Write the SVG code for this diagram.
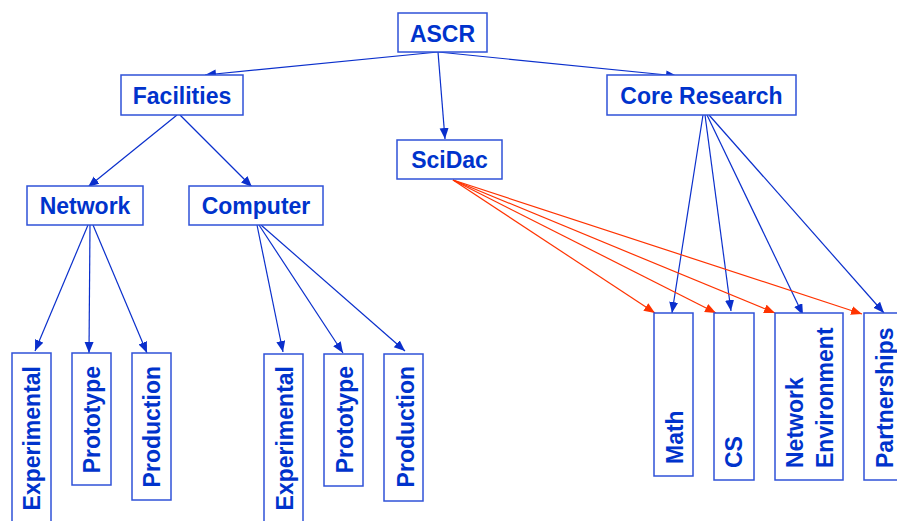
<svg xmlns="http://www.w3.org/2000/svg" width="897" height="521" viewBox="0 0 897 521">
<style>
.box{fill:#fff;stroke:#2f52d8;stroke-width:1.5}
.t{font-family:"Liberation Sans",Arial,sans-serif;font-weight:bold;font-size:23px;fill:#0033cc}
.c{text-anchor:middle}
.b{stroke:#0a2fcc;stroke-width:1.2;fill:none;marker-end:url(#ab)}
.r{stroke:#ff3300;stroke-width:1.2;fill:none;marker-end:url(#ar)}
</style>
<defs>
<marker id="ab" markerUnits="userSpaceOnUse" markerWidth="12" markerHeight="10" refX="11" refY="4.5" orient="auto"><path d="M0,0 L11,4.5 L0,9 z" fill="#0a2fcc"/></marker>
<marker id="ar" markerUnits="userSpaceOnUse" markerWidth="12" markerHeight="10" refX="11" refY="4.5" orient="auto"><path d="M0,0 L11,4.5 L0,9 z" fill="#ff3300"/></marker>
</defs>
<rect width="897" height="521" fill="#fff"/>
<g id="connectors">
<line class="b" x1="438" y1="52" x2="205" y2="75"/>
<line class="b" x1="438" y1="52" x2="677" y2="76"/>
<line class="b" x1="438" y1="52" x2="445" y2="139"/>
<line class="b" x1="177" y1="115" x2="88" y2="187"/>
<line class="b" x1="180" y1="115" x2="252" y2="187"/>
<line class="b" x1="88" y1="225" x2="35" y2="351"/>
<line class="b" x1="90" y1="225" x2="89" y2="353"/>
<line class="b" x1="93" y1="225" x2="147" y2="353"/>
<line class="b" x1="257" y1="225" x2="283" y2="352"/>
<line class="b" x1="259" y1="225" x2="343" y2="353"/>
<line class="b" x1="261" y1="225" x2="405" y2="351"/>
<line class="b" x1="703" y1="115" x2="672" y2="313"/>
<line class="b" x1="705" y1="115" x2="731" y2="311"/>
<line class="b" x1="707" y1="115" x2="803" y2="315"/>
<line class="b" x1="709" y1="115" x2="884" y2="313"/>
<line class="r" x1="453" y1="180" x2="655" y2="313"/>
<line class="r" x1="453" y1="180" x2="716" y2="313"/>
<line class="r" x1="453" y1="180" x2="775" y2="313"/>
<line class="r" x1="453" y1="180" x2="862" y2="314"/>
</g>
<g id="ascr"><rect class="box" x="398" y="13" width="89" height="39"/><text class="t c" x="442.5" y="42">ASCR</text></g>
<g id="facilities"><rect class="box" x="121" y="75" width="122" height="40"/><text class="t c" x="182" y="104">Facilities</text></g>
<g id="core-research"><rect class="box" x="607" y="75" width="189" height="40"/><text class="t c" x="701.5" y="104">Core Research</text></g>
<g id="scidac"><rect class="box" x="397" y="140" width="105" height="39"/><text class="t c" x="449.5" y="168">SciDac</text></g>
<g id="network"><rect class="box" x="27" y="186" width="116" height="39"/><text class="t c" x="85" y="214">Network</text></g>
<g id="computer"><rect class="box" x="189" y="186" width="134" height="39"/><text class="t c" x="256" y="214">Computer</text></g>
<g id="net-experimental"><rect class="box" x="12" y="353" width="39" height="180"/><text class="t" text-anchor="end" transform="translate(40,366) rotate(-90)">Experimental</text></g>
<g id="net-prototype"><rect class="box" x="72" y="353" width="39" height="132"/><text class="t" text-anchor="end" transform="translate(100,366) rotate(-90)">Prototype</text></g>
<g id="net-production"><rect class="box" x="132" y="353" width="39" height="147"/><text class="t" text-anchor="end" transform="translate(160,366) rotate(-90)">Production</text></g>
<g id="comp-experimental"><rect class="box" x="264" y="354" width="39" height="180"/><text class="t" text-anchor="end" transform="translate(293,366) rotate(-90)">Experimental</text></g>
<g id="comp-prototype"><rect class="box" x="324" y="354" width="39" height="132"/><text class="t" text-anchor="end" transform="translate(353,366) rotate(-90)">Prototype</text></g>
<g id="comp-production"><rect class="box" x="384" y="354" width="39" height="147"/><text class="t" text-anchor="end" transform="translate(414,366) rotate(-90)">Production</text></g>
<g id="math"><rect class="box" x="654" y="313" width="39" height="163"/><text class="t" transform="translate(683,464) rotate(-90)">Math</text></g>
<g id="cs"><rect class="box" x="714" y="313" width="40" height="167"/><text class="t" transform="translate(742,468) rotate(-90)">CS</text></g>
<g id="network-environment"><rect class="box" x="775" y="313" width="68" height="167"/><text class="t" transform="translate(803,468) rotate(-90)">Network</text><text class="t" transform="translate(833,468) rotate(-90)">Environment</text></g>
<g id="partnerships"><rect class="box" x="864" y="313" width="40" height="167"/><text class="t" transform="translate(893,468) rotate(-90)">Partnerships</text></g>
</svg>
